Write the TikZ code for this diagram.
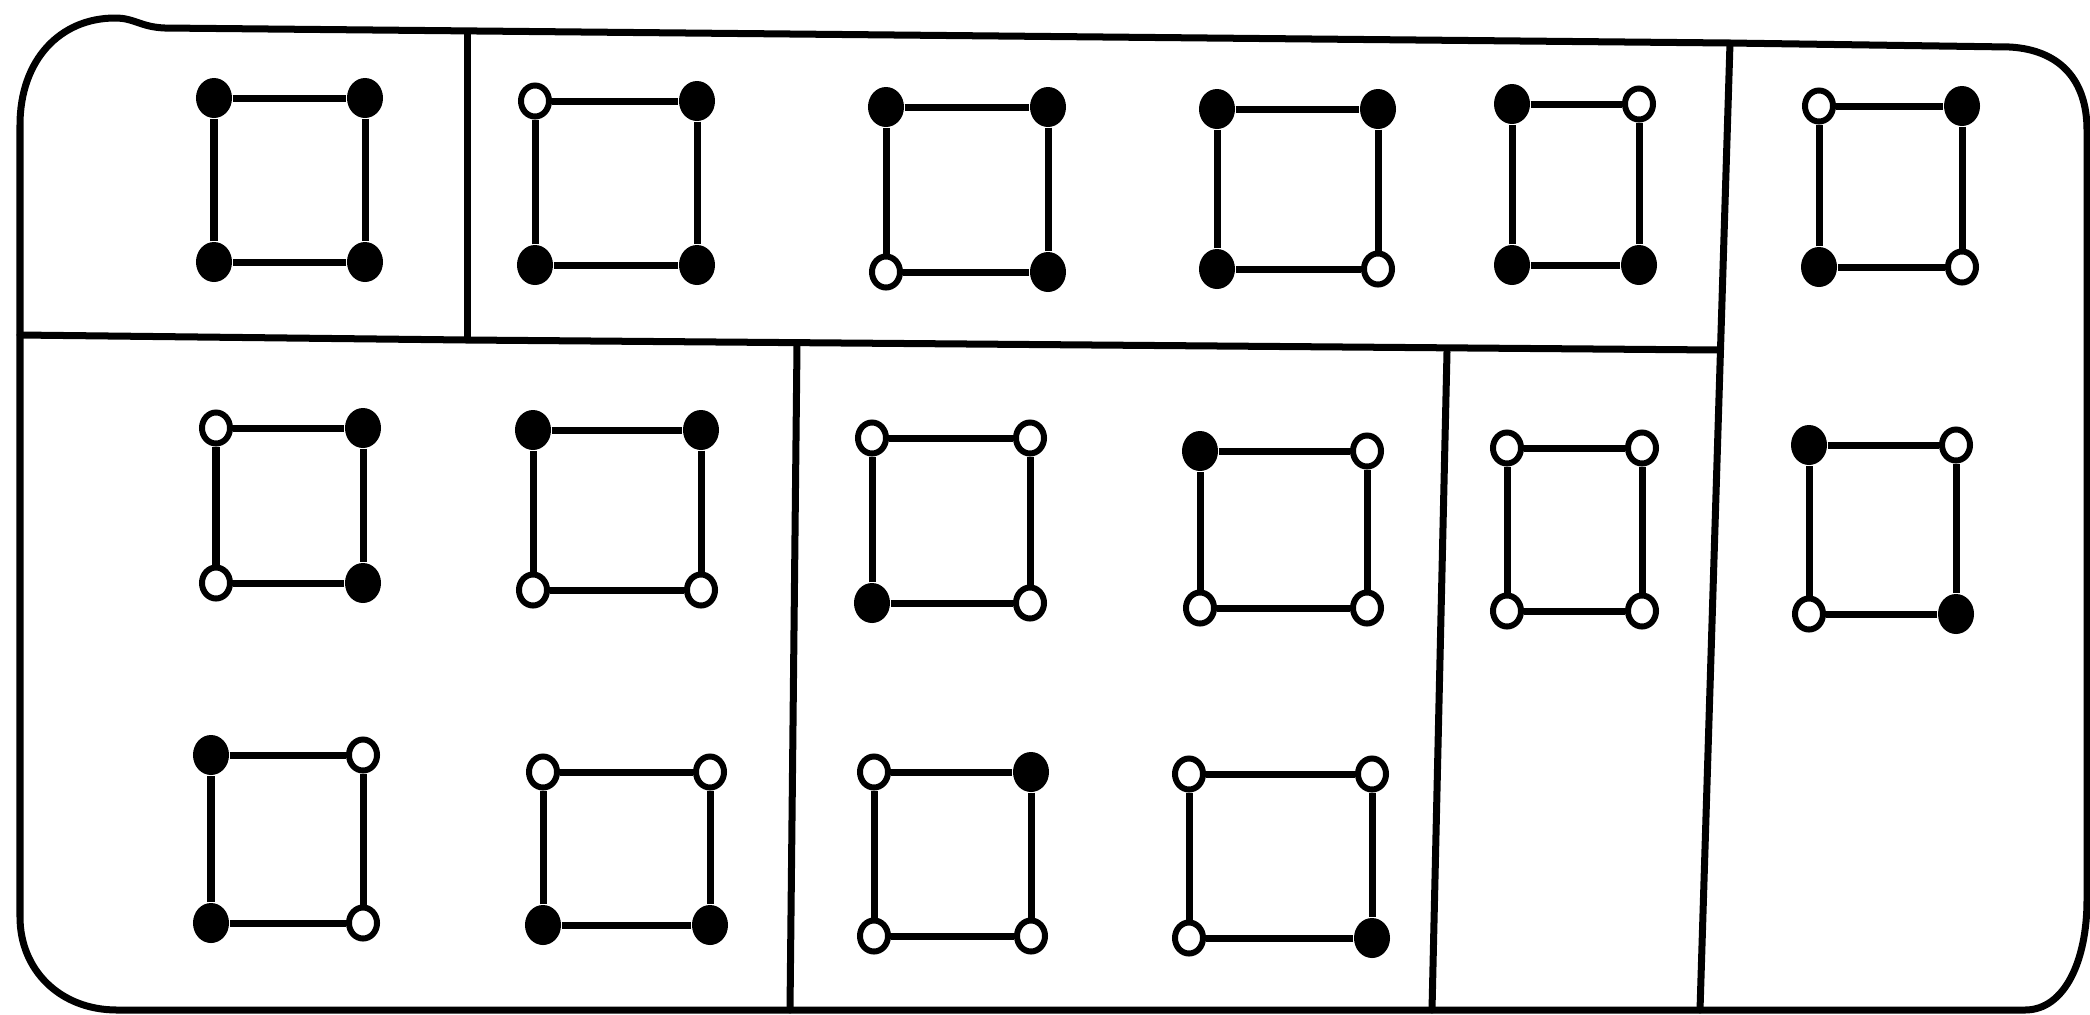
\documentclass[tikz,border=0pt]{standalone}
\usepackage{tikz}
\usetikzlibrary{positioning,shapes.geometric}
\tikzset{
	full dot/.style = {ellipse, fill, inner sep=0pt, minimum width=0.36cm, minimum height=0.40cm},
	open dot/.style = {ellipse, draw, fill=white, line width=0.06cm, inner sep=0pt, minimum width=0.28cm, minimum height=0.31cm},
	my edge/.style = {-, line width=0.07cm},
	frame/.style = {line width=0.07cm, line join=round, line cap=round}
}
% one square: name, left, top, right, bottom, then corners tl tr bl br
\newcommand{\cell}[9]{%
	\node[#6] (#1tl) at (#2,#3) {};
	\node[#7] (#1tr) at (#4,#3) {};
	\node[#8] (#1bl) at (#2,#5) {};
	\node[#9] (#1br) at (#4,#5) {};
	\draw[my edge] (#1tl) -- (#1tr);
	\draw[my edge] (#1tr) -- (#1br);
	\draw[my edge] (#1br) -- (#1bl);
	\draw[my edge] (#1bl) -- (#1tl);
}
\begin{document}
\begin{tikzpicture}[x=0.01cm, y=-0.01cm]
	\useasboundingbox (0,0) rectangle (2090,1014);
	% outline
	\draw[frame] (20,125) .. controls (20,60) and (60,18) .. (115,18) .. controls (135,18) and (140,27) .. (165,28)
		-- (1730,43) -- (2010,47)
		.. controls (2060,50) and (2087,80) .. (2087,130) -- (2087,900)
		.. controls (2087,960) and (2065,1010) .. (2025,1010) -- (117,1010)
		.. controls (60,1010) and (20,970) .. (20,917) -- cycle;
	% dividers
	\draw[frame] (467,32) -- (467,338);
	\draw[frame] (20,335) -- (467,340) -- (1720,350);
	\draw[frame] (1730,43) -- (1700,1010);
	\draw[frame] (797,345) -- (790,1010);
	\draw[frame] (1447,352) -- (1432,1010);
	% top row
	\cell{s1}{214}{98}{365}{262}{full dot}{full dot}{full dot}{full dot}
	\cell{s2}{535}{101}{697}{265}{open dot}{full dot}{full dot}{full dot}
	\cell{s3}{886}{107}{1048}{272}{full dot}{full dot}{open dot}{full dot}
	\cell{s4}{1217}{109}{1378}{269}{full dot}{full dot}{full dot}{open dot}
	\cell{s5}{1512}{104}{1639}{265}{full dot}{open dot}{full dot}{full dot}
	\cell{s6}{1819}{106}{1962}{267}{open dot}{full dot}{full dot}{open dot}
	% middle row
	\cell{s7}{216}{428}{363}{583}{open dot}{full dot}{open dot}{full dot}
	\cell{s8}{533}{430}{701}{590}{full dot}{full dot}{open dot}{open dot}
	\cell{s9}{872}{438}{1030}{603}{open dot}{open dot}{full dot}{open dot}
	\cell{s10}{1200}{451}{1367}{608}{full dot}{open dot}{open dot}{open dot}
	\cell{s11}{1507}{448}{1642}{611}{open dot}{open dot}{open dot}{open dot}
	\cell{s12}{1809}{445}{1956}{614}{full dot}{open dot}{open dot}{full dot}
	% bottom row
	\cell{s13}{211}{755}{363}{923}{full dot}{open dot}{full dot}{open dot}
	\cell{s14}{543}{772}{710}{925}{open dot}{open dot}{full dot}{full dot}
	\cell{s15}{874}{772}{1031}{936}{open dot}{full dot}{open dot}{open dot}
	\cell{s16}{1189}{774}{1372}{938}{open dot}{open dot}{open dot}{full dot}
\end{tikzpicture}
\end{document}
